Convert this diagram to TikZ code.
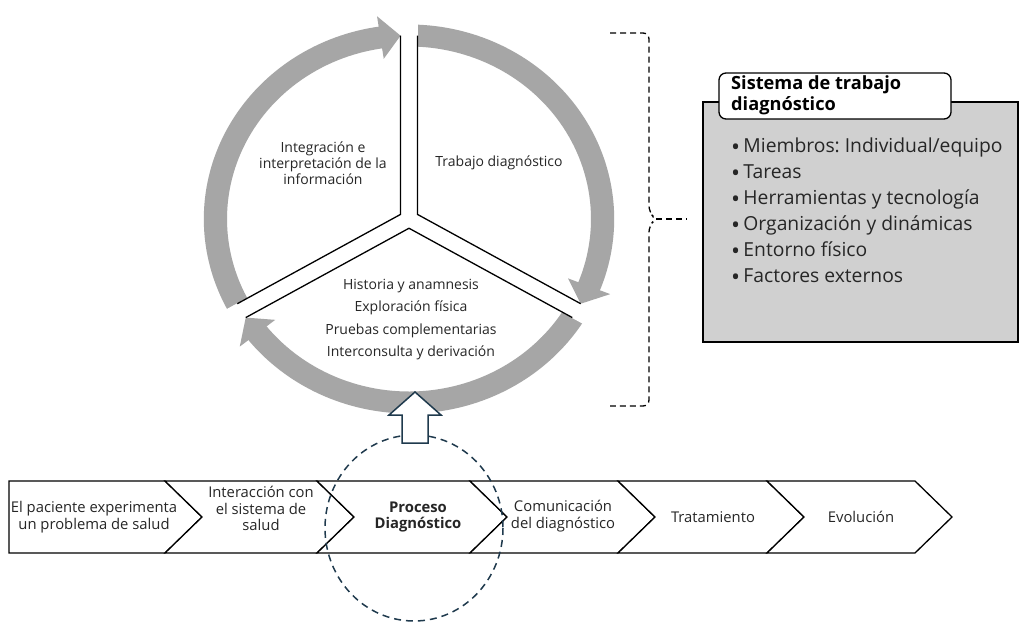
\documentclass[tikz,border=0pt]{standalone}
\usepackage{fontspec}
\setmainfont{Open Sans}
\usetikzlibrary{calc}
\definecolor{ringgray}{HTML}{A6A6A6}
\definecolor{boxgray}{HTML}{D0D0D0}
\definecolor{slate}{HTML}{1F3A4D}
\definecolor{txt}{HTML}{262626}
\newcommand{\bul}{{\fontsize{24}{26}\selectfont\raisebox{-3pt}{•}}\,}
\begin{document}
\frenchspacing
\begin{tikzpicture}[x=1pt,y=-1pt,
  ctext/.style={font=\fontsize{14}{16}\selectfont, text=txt, align=center, inner sep=0pt},
  chtext/.style={font=\fontsize{14.8}{16.5}\selectfont, text=txt, align=center, inner sep=0pt},
  chev/.style={draw=black, fill=white, line width=1.3pt, line join=miter},
  gapline/.style={draw=black, line width=1.3pt},
  gapcut/.style={draw=white, line width=17pt},
  bracketline/.style={draw=black, line width=1.3pt, dash pattern=on 6pt off 4pt},
  ringfill/.style={fill=ringgray}]
\useasboundingbox (0,0) rectangle (1019,623);
\fill[white] (0,0) rectangle (1019,623);

% ---------------- ring ----------------
\begin{scope}[shift={(409,219)}, yscale=-1, xscale=1.055]
  % left segment: tail 210, tip 92.5
  \fill[ringfill] (210:194.5) arc[start angle=210, end angle=98, radius=194.5]
     -- (98:172.5) arc[start angle=98, end angle=210, radius=172.5] -- cycle;
  \fill[ringfill] (98.5:205) -- (92.5:183.5) -- (98.5:162) -- cycle;
  % right segment: tail 90, tip -27.5
  \fill[ringfill] (90:194.5) arc[start angle=90, end angle=-22, radius=194.5]
     -- (-22:172.5) arc[start angle=-22, end angle=90, radius=172.5] -- cycle;
  \fill[ringfill] (-21.5:205) -- (-27.5:183.5) -- (-21.5:162) -- cycle;
  % bottom segment: tail -30, tip -147.5
  \fill[ringfill] (-30:194.5) arc[start angle=-30, end angle=-142, radius=194.5]
     -- (-142:172.5) arc[start angle=-142, end angle=-30, radius=172.5] -- cycle;
  \fill[ringfill] (-141.5:205) -- (-147.5:183.5) -- (-141.5:162) -- cycle;
  % white gaps
  \draw[gapcut] (0,0) -- (90:200);
  \draw[gapcut] (0,0) -- (210:200);
  \draw[gapcut] (0,0) -- (330:200);
  % dividing lines
  \coordinate (J1) at (150:9.24);
  \coordinate (J2) at (30:9.24);
  \coordinate (J3) at (270:9.24);
  \coordinate (TL) at ($(90:183.3)+(180:8)$);
  \coordinate (TR) at ($(90:183.3)+(0:8)$);
  \coordinate (LU) at ($(210:183.3)+(120:8)$);
  \coordinate (LD) at ($(210:183.3)+(300:8)$);
  \coordinate (RU) at ($(330:183.3)+(60:8)$);
  \coordinate (RD) at ($(330:183.3)+(240:8)$);
  \draw[gapline] (TL) -- (J1) -- (LU);
  \draw[gapline] (TR) -- (J2) -- (RU);
  \draw[gapline] (LD) -- (J3) -- (RD);
\end{scope}

\node[ctext] (integ) at (323,163) {Integración e\\interpretación de la\\información};
\node[ctext] (trab) at (499,163) {Trabajo diagnóstico};
\node[ctext, font=\fontsize{14}{22.3}\selectfont] (hist) at (411,319.5)
  {Historia y anamnesis\\Exploración física\\Pruebas complementarias\\Interconsulta y derivación};

% ---------------- chevrons ----------------
\draw[chev] (9,481) -- (165,481) -- (202,517) -- (165,553) -- (9,553) -- cycle;
\draw[chev] (165,481) -- (317,481) -- (354,517) -- (317,553) -- (165,553) -- (202,517) -- cycle;
\draw[chev] (317,481) -- (470,481) -- (507,517) -- (470,553) -- (317,553) -- (354,517) -- cycle;
\draw[chev] (470,481) -- (618,481) -- (655,517) -- (618,553) -- (470,553) -- (507,517) -- cycle;
\draw[chev] (618,481) -- (767,481) -- (804,517) -- (767,553) -- (618,553) -- (655,517) -- cycle;
\draw[chev] (767,481) -- (915,481) -- (952,517) -- (915,553) -- (767,553) -- (804,517) -- cycle;

\node[chtext] (c1) at (94,517) {El paciente experimenta\\un problema de salud};
\node[chtext] (c2) at (261,508.5) {Interacción con\\el sistema de\\salud};
\node[chtext, font=\bfseries\fontsize{14.8}{16.5}\selectfont] (c3) at (418,517) {Proceso\\Diagnóstico};
\node[chtext] (c4) at (563,516) {Comunicación\\del diagnóstico};
\node[chtext] (c5) at (713,517) {Tratamiento};
\node[chtext] (c6) at (861,517) {Evolución};

% dashed focus ellipse
\draw[slate, line width=1.5pt, dash pattern=on 7pt off 5pt] (414,528) ellipse [x radius=89, y radius=93];

% up block arrow
\draw[slate, fill=white, line width=1.5pt, line join=miter]
  (415,392) -- (441,415) -- (428,415) -- (428,443) -- (402,443) -- (402,415) -- (389,415) -- cycle;

% ---------------- bracket ----------------
\coordinate (btip) at (656,219);
\coordinate (bend) at (687,219);
\draw[bracketline, rounded corners=6pt] (610,33) -- (649,33) -- (649,212) -- (btip) -- (649,226) -- (649,406) -- (610,406);
\draw[bracketline] (btip) -- (bend);

% ---------------- box ----------------
\draw[fill=boxgray, line width=1.3pt] (703,102) rectangle (1018,342);
\draw[fill=white, line width=1.3pt, rounded corners=7pt] (719,73) rectangle (951,119);
\node[anchor=west, align=left, inner sep=0pt, text=black, font=\bfseries\fontsize{18.2}{21}\selectfont] (title) at (731,95.5)
  {Sistema de trabajo\\diagnóstico};
\node[anchor=west, align=left, inner sep=0pt, text=txt, font=\fontsize{19.3}{26}\selectfont] (list) at (731,212)
  {\bul Miembros: Individual/equipo\\\bul Tareas\\\bul Herramientas y tecnología\\\bul Organización y dinámicas\\\bul Entorno físico\\\bul Factores externos};
\end{tikzpicture}
\end{document}
